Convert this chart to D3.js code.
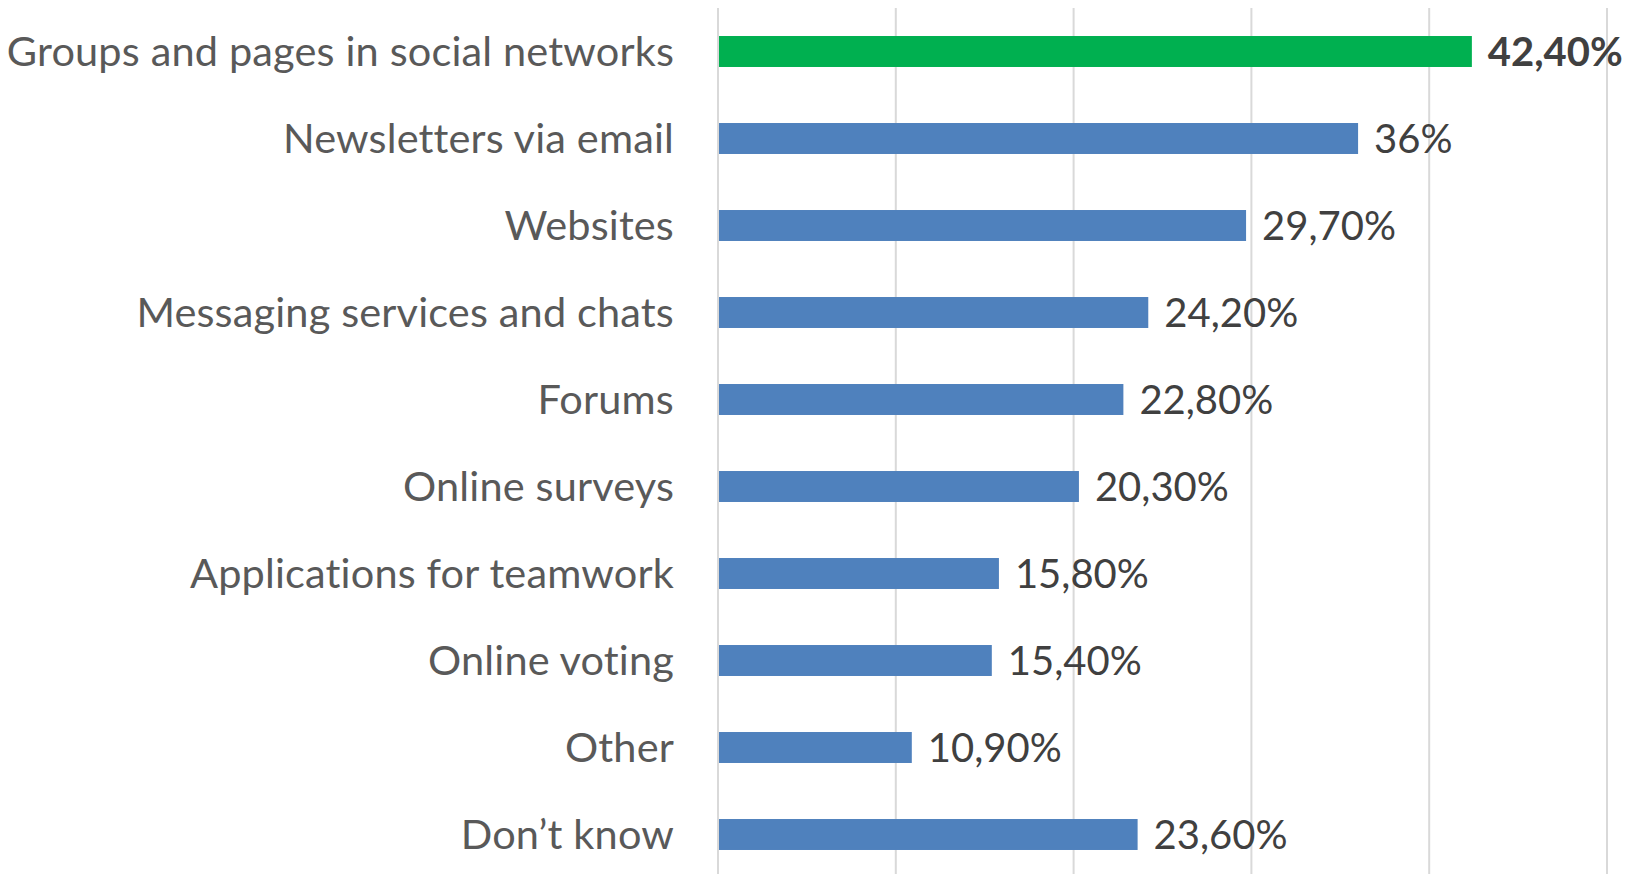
<!DOCTYPE html>
<html>
<head>
<meta charset="utf-8">
<script src="https://cdn.jsdelivr.net/npm/d3@7"></script>
<style>
    body { margin: 0; background: #fff; }
    #visual { width: 1647px; height: 874px; }
</style>
</head>
<body>
<div id="visual"></div>
<script>
var categories = ['Groups and pages in social networks', 'Newsletters via email', 'Websites',
    'Messaging services and chats', 'Forums', 'Online surveys', 'Applications for teamwork',
    'Online voting', 'Other', 'Don\u2019t know'];
var values = [42.4, 36, 29.7, 24.2, 22.8, 20.3, 15.8, 15.4, 10.9, 23.6];
var value_labels = ['42,40%', '36%', '29,70%', '24,20%', '22,80%', '20,30%', '15,80%', '15,40%', '10,90%', '23,60%'];
var x_ticks = [0, 10, 20, 30, 40, 50];

var width = document.getElementById('visual').clientWidth;
var height = document.getElementById('visual').clientHeight;

var svg = d3.select('#visual')
    .append('svg')
    .attr('width', width)
    .attr('height', height);

var x_scale = d3.scaleLinear()
    .domain([0, 50])
    .range([718, 1607]);

var y_scale = d3.scaleBand()
    .domain(categories)
    .range([8, 878])
    .paddingInner(0.644)
    .paddingOuter(0.322);

var data = categories.map(function (c, i) {
    return { category: c, value: values[i], label: value_labels[i], top: i === 0 };
});

// gridlines
svg.append('g')
    .selectAll('line')
    .data(x_ticks)
    .enter().append('line')
    .attr('x1', function (d) { return x_scale(d); })
    .attr('x2', function (d) { return x_scale(d); })
    .attr('y1', 8)
    .attr('y2', height)
    .attr('stroke', '#d9d9d9')
    .attr('stroke-width', 2);

svg.append('g')
    .selectAll('rect')
    .data(data)
    .enter().append('rect')
    .attr('x', x_scale(0) + 1)
    .attr('y', function (d) { return y_scale(d.category); })
    .attr('width', function (d) { return x_scale(d.value) - x_scale(0) - 1; })
    .attr('height', y_scale.bandwidth())
    .attr('fill', function (d) { return d.top ? '#00b050' : '#4f81bd'; });

// category labels
svg.append('g')
    .selectAll('text')
    .data(data)
    .enter().append('text')
    .attr('x', 674)
    .attr('y', function (d) { return y_scale(d.category) + y_scale.bandwidth() / 2; })
    .attr('dy', '0.35em')
    .attr('text-anchor', 'end')
    .attr('font-family', 'Lato, sans-serif')
    .attr('font-size', '41.5px')
    .attr('letter-spacing', '0.15px')
    .attr('fill', '#595959')
    .text(function (d) { return d.category; });

// value labels
svg.append('g')
    .selectAll('text')
    .data(data)
    .enter().append('text')
    .attr('x', function (d) { return x_scale(d.value) + 16; })
    .attr('y', function (d) { return y_scale(d.category) + y_scale.bandwidth() / 2; })
    .attr('dy', '0.36em')
    .attr('font-family', 'Lato, sans-serif')
    .attr('font-size', '40px')
    .attr('font-weight', function (d) { return d.top ? 'bold' : 'normal'; })
    .attr('fill', '#404040')
    .text(function (d) { return d.label; });
</script>
</body>
</html>
